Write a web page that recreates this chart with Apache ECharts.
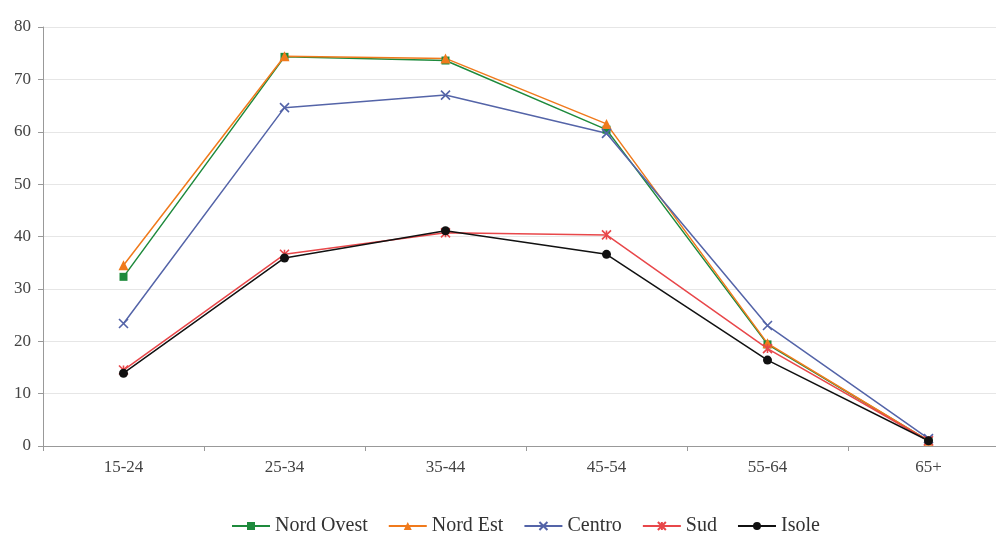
<!DOCTYPE html>
<html>
<head>
<meta charset="utf-8">
<script src="https://cdn.jsdelivr.net/npm/echarts@6/dist/echarts.min.js"></script>
<style>html,body{margin:0;padding:0;background:#fff;overflow:hidden;width:996px;height:537px}#c{width:1010px;height:537px}</style>
</head>
<body>
<div id="c"></div>
<script>
const categories = ['15-24', '25-34', '35-44', '45-54', '55-64', '65+'];
const nordOvest = [32.3, 74.3, 73.6, 60.4, 19.4, 1.0];
const nordEst   = [34.5, 74.4, 74.0, 61.5, 19.6, 1.0];
const centro    = [23.4, 64.6, 67.0, 59.7, 23.0, 1.4];
const sud       = [14.5, 36.6, 40.7, 40.3, 18.6, 1.0];
const isole     = [13.9, 35.9, 41.1, 36.6, 16.4, 1.0];
const yTicks = [0, 10, 20, 30, 40, 50, 60, 70, 80];

const font = 'Liberation Serif, Times New Roman, serif';
function mk(name, data, color, symbol, size) {
  return {
    name, type: 'line', data, symbol, symbolSize: size,
    lineStyle: { color, width: 1.5 },
    itemStyle: { color, borderColor: color, borderWidth: symbol.startsWith('path') ? 1.6 : 0 },
    emphasis: { disabled: true }
  };
}
const chart = echarts.init(document.getElementById('c'));
chart.setOption({
  animation: false,
  backgroundColor: '#fff',
  grid: { left: 43, right: 1, top: 27, bottom: 91, containLabel: false },
  legend: {
    top: 511, left: 226, itemGap: 20, itemWidth: 38, itemHeight: 10,
    textStyle: { fontFamily: font, fontSize: 20, color: '#333' },
    data: ['Nord Ovest', 'Nord Est', 'Centro', 'Sud', 'Isole']
  },
  xAxis: {
    type: 'category', data: categories, boundaryGap: true,
    axisLine: { lineStyle: { color: '#999', width: 1 } },
    axisTick: { show: true, length: 5, lineStyle: { color: '#999' } },
    axisLabel: { fontFamily: font, fontSize: 17, color: '#444', margin: 13 }
  },
  yAxis: {
    type: 'value', min: 0, max: 80, interval: 10,
    axisLine: { show: true, lineStyle: { color: '#999' } },
    axisTick: { show: true, length: 5, inside: false, lineStyle: { color: '#999' } },
    axisLabel: { fontFamily: font, fontSize: 17, color: '#444', margin: 12,
      formatter: v => yTicks.includes(v) ? String(v) : '' },
    splitLine: { lineStyle: { color: '#e6e6e6', width: 1 } }
  },
  series: [
    mk('Nord Ovest', nordOvest, '#1e8a3c', 'rect', 8),
    mk('Nord Est', nordEst, '#f07a1c', 'triangle', 10),
    mk('Centro', centro, '#5464a8', 'path://M0,0L10,10M10,0L0,10', 9),
    mk('Sud', sud, '#e8474a', 'path://M0,0L10,10M10,0L0,10M5,0L5,10', 9),
    mk('Isole', isole, '#111111', 'circle', 9)
  ]
});
</script>
</body>
</html>
